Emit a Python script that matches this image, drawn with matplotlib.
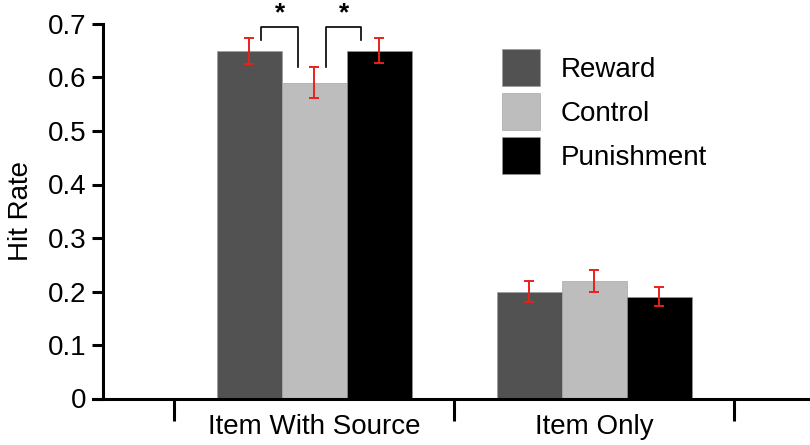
import numpy as np
import matplotlib.pyplot as plt
from matplotlib.patches import Patch

plt.rcParams['font.family'] = ['Liberation Sans', 'DejaVu Sans']

# data
categories = ['Item With Source', 'Item Only']
conditions = ['Reward', 'Control', 'Punishment']
hit_rate = {
    'Reward': [0.65, 0.20],
    'Control': [0.59, 0.22],
    'Punishment': [0.65, 0.19],
}
err = {
    'Reward': [0.024, 0.020],
    'Control': [0.029, 0.020],
    'Punishment': [0.023, 0.018],
}
colors = {'Reward': '#525252', 'Control': '#bdbdbd', 'Punishment': '#000000'}

fig = plt.figure(figsize=(8.1, 4.45), dpi=100)
ax = fig.add_axes([103 / 810, 1 - 398.5 / 445, 1 - 103 / 810, (398.5 - 24) / 445])

x = np.arange(len(categories))
w = 0.232
for i, c in enumerate(conditions):
    xs = x + (i - 1) * w
    ax.bar(xs, hit_rate[c], w, color=colors[c], edgecolor='#9a9a9a', linewidth=0.4, zorder=2)
    ax.errorbar(xs, hit_rate[c], yerr=err[c], fmt='none', ecolor='#e8211b',
                elinewidth=1.4, capsize=3.5, capthick=1.4, zorder=3)

# significance brackets
def bracket(x0, x1, y_top, y_l, y_r):
    ax.plot([x0, x0, x1, x1], [y_l, y_top, y_top, y_r], color='black', lw=1.2, clip_on=False, zorder=4)
    ax.text((x0 + x1) / 2, y_top + 0.004, '*', ha='center', va='bottom', fontsize=19,
            fontweight='bold', clip_on=False)

bracket(-0.189, -0.057, 0.694, 0.670, 0.620)
bracket(0.043, 0.168, 0.694, 0.620, 0.670)

ax.set_xlim(-0.754, 1.77)
ax.set_ylim(0, 0.7)
ax.set_yticks(np.arange(0, 0.71, 0.1))
ax.set_yticklabels(['0', '0.1', '0.2', '0.3', '0.4', '0.5', '0.6', '0.7'])
ax.set_xticks([-0.5, 0.5, 1.5])
ax.set_xticklabels([])
ax.set_xticks(x, minor=True)
ax.set_xticklabels(categories, minor=True)
ax.tick_params(axis='x', which='major', length=16, width=2.2, direction='out')
ax.tick_params(axis='x', which='minor', length=0, labelsize=20, pad=11)
ax.tick_params(axis='y', length=8, width=2.2, labelsize=20, pad=4)

for s in ['top', 'right']:
    ax.spines[s].set_visible(False)
ax.spines['left'].set_linewidth(2.2)
ax.spines['bottom'].set_linewidth(2.2)
ax.spines['left'].set_bounds(0, 0.7)
ax.spines['bottom'].set_bounds(-0.79, 1.77)

ax.set_ylabel('Hit Rate', fontsize=20, labelpad=10)

handles = [Patch(facecolor=colors[c], edgecolor='#9a9a9a', linewidth=0.4) for c in conditions]
ax.legend(handles, conditions, loc='upper left', bbox_to_anchor=(502 / 810, 1 - 49 / 445),
          bbox_transform=fig.transFigure, frameon=False, fontsize=20, borderpad=0,
          handlelength=1.38, handleheight=1.68, labelspacing=0.25, handletextpad=0.72,
          borderaxespad=0)

fig.savefig('out.png', dpi=100)
